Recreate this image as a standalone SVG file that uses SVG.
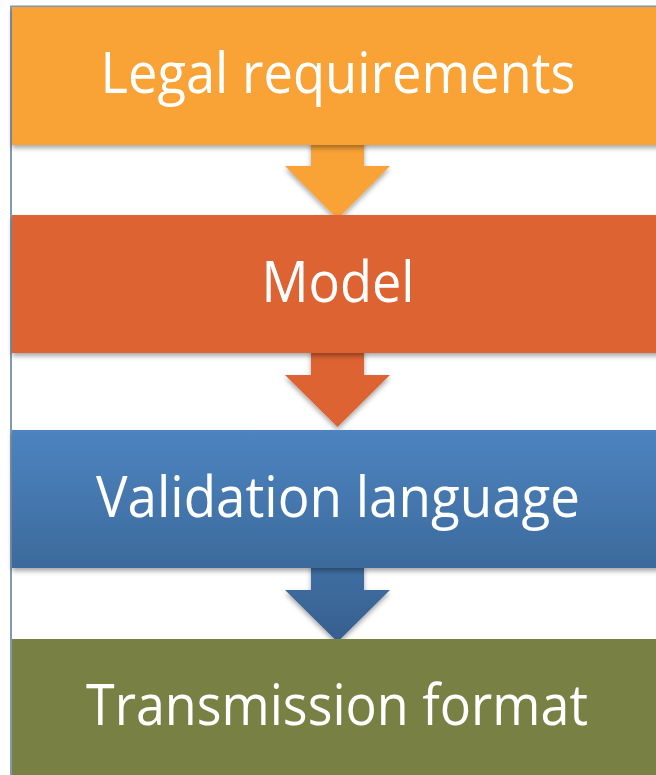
<svg xmlns="http://www.w3.org/2000/svg" width="656" height="775" viewBox="0 0 656 775">
<defs>
<filter id="sh" x="-10%" y="-10%" width="120%" height="130%">
<feDropShadow dx="0" dy="3" stdDeviation="2.5" flood-color="#000" flood-opacity="0.35"/>
</filter>
<linearGradient id="gBlue" x1="0" y1="0" x2="0" y2="1">
<stop offset="0" stop-color="#4C84C0"/>
<stop offset="1" stop-color="#3D6A9C"/>
</linearGradient>
<linearGradient id="gBlueArr" x1="0" y1="0" x2="0" y2="1">
<stop offset="0" stop-color="#406FA4"/>
<stop offset="1" stop-color="#365F8E"/>
</linearGradient>
<style>
.lbl{font-family:"Open Sans","Noto Sans",sans-serif;font-size:56px;fill:#fff;text-anchor:middle}
.frame{stroke:#7F9AB3;stroke-width:2;fill:none}
</style>
</defs>
<rect width="656" height="775" fill="#fff"/>
<g id="frame"><path class="frame" d="M11 775 V6.5 H656"/></g>
<g id="connectors">
<path d="M311 140 V166 H285 L337.5 219 L390 166 H364 V140 Z" fill="#F9A235" filter="url(#sh)"/>
<path d="M311 348 V375 H285 L337.5 427 L390 375 H364 V348 Z" fill="#DD6330" filter="url(#sh)"/>
<path d="M311 563 V590 H285 L337.5 642 L390 590 H364 V563 Z" fill="url(#gBlueArr)" filter="url(#sh)"/>
</g>
<g id="n1"><rect x="12" y="7" width="650" height="138" fill="#F9A235" filter="url(#sh)"/>
<text class="lbl" x="338" y="93" textLength="475" lengthAdjust="spacingAndGlyphs">Legal requirements</text></g>
<g id="n2"><rect x="12" y="215" width="650" height="138" fill="#DD6330" filter="url(#sh)"/>
<text class="lbl" x="338" y="302" textLength="153" lengthAdjust="spacingAndGlyphs">Model</text></g>
<g id="n3"><rect x="12" y="430" width="650" height="138" fill="url(#gBlue)" filter="url(#sh)"/>
<text class="lbl" x="338" y="517" textLength="484" lengthAdjust="spacingAndGlyphs">Validation language</text></g>
<g id="n4"><rect x="12" y="639" width="650" height="140" fill="#788043"/>
<text class="lbl" x="337" y="725" textLength="502" lengthAdjust="spacingAndGlyphs">Transmission format</text></g>
</svg>
